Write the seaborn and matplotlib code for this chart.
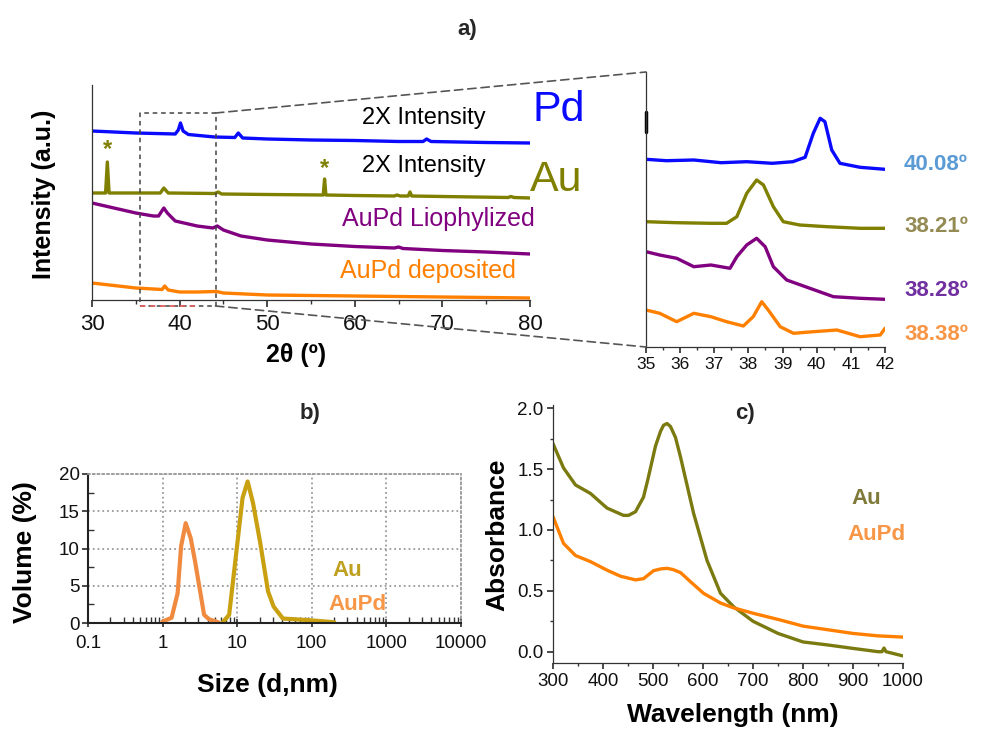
import numpy as np
import pandas as pd
import matplotlib
matplotlib.use("Agg")
import matplotlib.pyplot as plt
import seaborn as sns
from matplotlib.patches import ConnectionPatch
from matplotlib.ticker import MultipleLocator, LogLocator, NullFormatter, FixedLocator, FixedFormatter

# ---------------- data ----------------
# a) XRD, full 2θ range (stacked traces, arbitrary offset intensity)
pd_2t  = [30, 35, 39.5, 39.85, 40.1, 40.4, 41, 44, 46.3, 46.7, 47.2, 50, 55, 60, 65, 67.8, 68.2, 68.7, 75, 80]
pd_int = [169, 167, 166, 170, 177, 169, 165.5, 163, 162.5, 167, 162, 161, 160, 159.5, 158.5, 158.5, 161, 158.5, 157.5, 157]

au_2t  = [30, 31.55, 31.75, 31.95, 35, 37.8, 38.2, 38.7, 44, 44.4, 44.8, 50, 56.4, 56.55, 56.7, 60, 64.5, 64.8, 65.2, 66.1, 66.3, 66.5, 70, 77.5, 77.8, 78.2, 80]
au_int = [107, 107, 138, 107, 107, 107, 112, 107, 106.5, 108, 106, 105.5, 105, 121, 105, 104.5, 104, 105, 104, 104, 108, 104, 103.5, 102.5, 103.5, 102.5, 102]

lio_2t  = [30, 32, 35, 37, 37.6, 38.2, 38.6, 39.5, 41, 42, 43.8, 44.3, 45, 47, 50, 55, 60, 64.5, 65, 65.5, 70, 75, 80]
lio_int = [97, 93, 87, 84, 84, 92, 87, 79, 76, 74, 72, 74, 70, 64, 60, 56, 53.5, 52, 53, 51.5, 49.5, 48, 46]

dep_2t  = [30, 32, 35, 37, 38, 38.3, 38.7, 40, 42, 44.2, 45, 50, 55, 60, 70, 80]
dep_int = [17, 15, 12, 11, 10.5, 14, 10, 8, 8, 8.5, 7, 5, 4.5, 4, 3, 2]

star_2t  = [31.75, 56.55]
star_int = [150, 131]

# a) inset, 35-42°
in_pd_2t  = [35.0, 35.6, 36.4, 37.2, 37.95, 38.7, 39.3, 39.66, 39.9, 40.1, 40.24, 40.44, 40.68, 41.27, 42.0]
in_pd_int = [187.7, 186.3, 187, 184.3, 185.3, 183.7, 185.3, 189.7, 213.7, 228.7, 225.3, 197, 183.7, 179.7, 177.7]
in_au_2t  = [35.0, 35.9, 36.9, 37.36, 37.66, 37.95, 38.24, 38.44, 38.73, 39.02, 39.5, 40.3, 41.27, 42.0]
in_au_int = [125.3, 124.3, 123.7, 123.7, 130.3, 153.7, 167, 162, 140.3, 125.3, 122, 120.3, 118.7, 118.7]
in_lio_2t  = [35.0, 35.4, 35.9, 36.4, 36.9, 37.46, 37.66, 37.95, 38.24, 38.49, 38.73, 39.12, 39.8, 40.49, 41.27, 42.0]
in_lio_int = [95.3, 92, 88.7, 80.3, 82, 78.7, 90.3, 102, 108.7, 100.3, 80.3, 67, 58.7, 50.3, 48.7, 47.7]
in_dep_2t  = [35.0, 35.4, 35.9, 36.4, 36.9, 37.36, 37.85, 38.14, 38.39, 38.58, 38.93, 39.32, 39.9, 40.59, 41.27, 41.86, 42.0]
in_dep_int = [37, 33.7, 25.3, 33.7, 30.3, 25.3, 21, 30.3, 45.3, 37, 20.3, 13.7, 15.3, 17, 10.3, 12, 18.7]
peak_labels = ["40.08º", "38.21º", "38.28º", "38.38º"]

# b) DLS size distribution
dls_au_size  = [6.4, 7.8, 11.8, 13.8, 16.3, 20.4, 25.9, 30.8, 41, 100, 200]
dls_au_vol   = [0.1, 1.1, 16.8, 19.0, 16.1, 10.7, 4.25, 2.2, 0.6, 0.35, 0.1]
dls_aupd_size = [1.0, 1.32, 1.59, 1.77, 2.04, 2.38, 2.72, 3.6, 4.2, 5.6]
dls_aupd_vol  = [0.2, 0.7, 4.0, 10.3, 13.4, 11.4, 8.3, 1.1, 0.5, 0.1]
b_xticks = [0.1, 1, 10, 100, 1000, 10000]
b_xticklabels = ["0.1", "1", "10", "100", "1000", "10000"]

# c) UV-Vis absorbance
uv_au_wl  = [300, 321, 345, 375, 408, 441, 451, 465, 481, 490, 505, 515, 521, 528, 535, 545, 555, 568, 581, 608, 635, 661, 700, 750, 800, 850, 900, 950, 958, 962, 966, 1000]
uv_au_abs = [1.71, 1.51, 1.37, 1.30, 1.18, 1.12, 1.12, 1.15, 1.27, 1.42, 1.69, 1.81, 1.86, 1.875, 1.85, 1.76, 1.60, 1.37, 1.14, 0.75, 0.48, 0.37, 0.25, 0.15, 0.08, 0.055, 0.027, 0.0, 0.0, 0.03, 0.0, -0.035]
uv_aupd_wl  = [300, 321, 345, 375, 408, 435, 465, 481, 501, 515, 528, 540, 555, 575, 601, 635, 661, 701, 755, 800, 850, 900, 950, 1000]
uv_aupd_abs = [1.11, 0.89, 0.79, 0.74, 0.67, 0.62, 0.59, 0.60, 0.665, 0.68, 0.685, 0.675, 0.65, 0.575, 0.48, 0.40, 0.36, 0.315, 0.26, 0.21, 0.18, 0.15, 0.13, 0.12]

# ---------------- style ----------------
sns.set_theme(style="ticks")
plt.rcParams["font.family"] = ["Liberation Sans", "DejaVu Sans"]
plt.rcParams["axes.linewidth"] = 0.9
plt.rcParams["axes.edgecolor"] = "#333333"
plt.rcParams["xtick.color"] = "#333333"
plt.rcParams["ytick.color"] = "#333333"
plt.rcParams["xtick.labelcolor"] = "#111111"
plt.rcParams["ytick.labelcolor"] = "#111111"

W, H = 984, 729
fig = plt.figure(figsize=(W / 100, H / 100), dpi=100)
fig.patch.set_facecolor("white")


def axes_px(l, t, r, b):
    return fig.add_axes([l / W, 1 - b / H, (r - l) / W, (b - t) / H])


def ftext(x, y, s, **kw):
    kw.setdefault("ha", "left")
    kw.setdefault("va", "center")
    return fig.text(x / W, 1 - y / H, s, **kw)


def label_at(ax, axis, x, y, s, size):
    """Place an axis label with its centre at figure pixel (x, y)."""
    bb = ax.get_position()
    fx = (x / W - bb.x0) / bb.width
    fy = ((1 - y / H) - bb.y0) / bb.height
    if axis == "x":
        ax.set_xlabel(s, fontsize=size, fontweight="bold", color="black")
        ax.xaxis.label.set_va("center")
        ax.xaxis.set_label_coords(fx, fy)
    else:
        ax.set_ylabel(s, fontsize=size, fontweight="bold", color="black")
        ax.yaxis.label.set_va("center")
        ax.yaxis.set_label_coords(fx, fy)


C_PD, C_AU, C_LIO, C_DEP = "#0a0aff", "#7f7f00", "#800080", "#ff8000"

# ---------------- panel a: main ----------------
ax_a = axes_px(92, 85, 530, 300)
for xs, ys, c in [(pd_2t, pd_int, C_PD), (au_2t, au_int, C_AU),
                  (lio_2t, lio_int, C_LIO), (dep_2t, dep_int, C_DEP)]:
    sns.lineplot(x=xs, y=ys, ax=ax_a, color=c, lw=2.4, sort=False, estimator=None)
ax_a.set_xlim(30, 80)
ax_a.set_ylim(0, 215)
ax_a.xaxis.set_major_locator(MultipleLocator(10))
ax_a.xaxis.set_minor_locator(MultipleLocator(5))
ax_a.tick_params(axis="x", which="major", direction="out", length=5, labelsize=16, pad=5)
ax_a.tick_params(axis="x", which="minor", direction="out", length=3)
ax_a.set_yticks([])
sns.despine(ax=ax_a)
for xs, ys in zip(star_2t, star_int):
    ax_a.text(xs, ys, "*", color=C_AU, fontsize=17, fontweight="bold", ha="center", va="center")
label_at(ax_a, "x", 296, 355, "2θ (º)", 18)
label_at(ax_a, "y", 44, 194, "Intensity (a.u.)", 18)

# zoom box
bx0, bx1, by0, by1 = 35.5, 44.1, -6, 187
ax_a.plot([bx0, bx1, bx1, bx0, bx0], [by0, by0, by1, by1, by0], ls=(0, (3, 2.5)),
          color="#444444", lw=1.1, clip_on=False, zorder=5)
ax_a.plot([bx0, 41.9], [by0, by0], ls=(0, (3, 2.5)), color="#e06060", lw=1.3, clip_on=False, zorder=6)

ftext(362, 118, "2X Intensity", fontsize=17, color="black")
ftext(362, 166, "2X Intensity", fontsize=17, color="black")
ftext(532, 110, "Pd", fontsize=31, color=C_PD)
ftext(530, 180, "Au", fontsize=31, color=C_AU)
ftext(342, 219, "AuPd Liophylized", fontsize=18, color=C_LIO)
ftext(340, 271, "AuPd deposited", fontsize=18, color=C_DEP)
ftext(467, 30, "a)", fontsize=16, fontweight="bold", ha="center")

# ---------------- panel a: inset ----------------
ax_in = axes_px(646, 72, 885, 347)
for xs, ys, c in [(in_pd_2t, in_pd_int, C_PD), (in_au_2t, in_au_int, C_AU),
                  (in_lio_2t, in_lio_int, C_LIO), (in_dep_2t, in_dep_int, C_DEP)]:
    sns.lineplot(x=xs, y=ys, ax=ax_in, color=c, lw=2.4, sort=False, estimator=None)
ax_in.set_xlim(35, 42)
ax_in.set_ylim(0, 275)
ax_in.xaxis.set_major_locator(MultipleLocator(1))
ax_in.xaxis.set_minor_locator(MultipleLocator(0.5))
ax_in.tick_params(axis="x", which="major", direction="out", length=4, labelsize=12.5, pad=3)
ax_in.tick_params(axis="x", which="minor", direction="out", length=2.5)
ax_in.set_yticks([])
sns.despine(ax=ax_in)
ax_in.plot([0, 0], [(347 - 132) / 275, (347 - 112) / 275], transform=ax_in.transAxes,
           color="black", lw=2.5, clip_on=False)

for lab, y, c in zip(peak_labels, [165, 227, 290, 335],
                     ["#5b9bd5", "#948a54", "#7030a0", "#f79646"]):
    ftext(904, y, lab, fontsize=16, fontweight="bold", color=c)

for xyA, xyB in [((bx1, by1), (0, 1)), ((bx1, by0), (0, 0))]:
    con = ConnectionPatch(xyA=xyA, coordsA=ax_a.transData, xyB=xyB, coordsB=ax_in.transAxes,
                          ls=(0, (5, 3)), color="#555555", lw=1.2)
    fig.add_artist(con)

# ---------------- panel b ----------------
C_B_AU, C_B_AUPD = "#c9a010", "#f08a40"
ax_b = axes_px(88, 474, 461, 623)
sns.lineplot(x=dls_au_size, y=dls_au_vol, ax=ax_b, color=C_B_AU, lw=3, sort=False, estimator=None)
sns.lineplot(x=dls_aupd_size, y=dls_aupd_vol, ax=ax_b, color=C_B_AUPD, lw=3, sort=False, estimator=None)
ax_b.set_xscale("log")
ax_b.set_xlim(0.1, 10000)
ax_b.set_ylim(0, 20)
ax_b.xaxis.set_major_locator(FixedLocator(b_xticks))
ax_b.xaxis.set_major_formatter(FixedFormatter(b_xticklabels))
ax_b.xaxis.set_minor_locator(LogLocator(base=10, subs=np.arange(2, 10)))
ax_b.xaxis.set_minor_formatter(NullFormatter())
ax_b.yaxis.set_major_locator(MultipleLocator(5))
ax_b.yaxis.set_minor_locator(MultipleLocator(2.5))
ax_b.tick_params(axis="x", which="major", direction="inout", length=6, labelsize=13.5, pad=6)
ax_b.tick_params(axis="x", which="minor", direction="in", length=4)
ax_b.tick_params(axis="y", which="major", direction="out", length=4, labelsize=13.5, pad=2)
ax_b.tick_params(axis="y", which="minor", direction="in", length=4)
ax_b.grid(True, which="major", ls=":", color="#9a9a9a", lw=1.3)
for s in ["top", "right"]:
    ax_b.spines[s].set_linestyle(":")
    ax_b.spines[s].set_color("#9a9a9a")
    ax_b.spines[s].set_linewidth(1.3)
ax_b.spines["left"].set_color("#222222")
ax_b.spines["bottom"].set_color("#222222")
ax_b.spines["left"].set_linewidth(1.5)
ax_b.spines["bottom"].set_linewidth(1.5)
label_at(ax_b, "x", 267, 685, "Size (d,nm)", 19)
label_at(ax_b, "y", 25, 552, "Volume (%)", 19)
ftext(332, 570, "Au", fontsize=16, fontweight="bold", color="#c0a020")
ftext(328, 605, "AuPd", fontsize=16, fontweight="bold", color="#f79646")
ftext(310, 413, "b)", fontsize=16, fontweight="bold", ha="center")

# ---------------- panel c ----------------
C_C_AU, C_C_AUPD = "#7a7a10", "#ff8000"
ax_c = axes_px(553, 405, 903, 663)
sns.lineplot(x=uv_au_wl, y=uv_au_abs, ax=ax_c, color=C_C_AU, lw=2.4, sort=False, estimator=None)
sns.lineplot(x=uv_aupd_wl, y=uv_aupd_abs, ax=ax_c, color=C_C_AUPD, lw=2.4, sort=False, estimator=None)
ax_c.set_xlim(300, 1000)
ax_c.set_ylim(-0.093, 2.027)
ax_c.xaxis.set_major_locator(MultipleLocator(100))
ax_c.xaxis.set_minor_locator(MultipleLocator(50))
ax_c.yaxis.set_major_locator(MultipleLocator(0.5))
ax_c.yaxis.set_minor_locator(MultipleLocator(0.25))
ax_c.yaxis.set_major_formatter(matplotlib.ticker.FormatStrFormatter("%.1f"))
ax_c.tick_params(axis="both", which="major", direction="out", length=4, labelsize=13.5, pad=3)
ax_c.tick_params(axis="both", which="minor", direction="out", length=2.5)
sns.despine(ax=ax_c)
label_at(ax_c, "x", 733, 715, "Wavelength (nm)", 19)
label_at(ax_c, "y", 497, 535, "Absorbance", 19)
ftext(851, 499, "Au", fontsize=16, fontweight="bold", color="#807a3a")
ftext(847, 535, "AuPd", fontsize=16, fontweight="bold", color="#f79646")
ftext(745, 413, "c)", fontsize=16, fontweight="bold", ha="center")

fig.savefig("out.png", dpi=100, facecolor="white")
